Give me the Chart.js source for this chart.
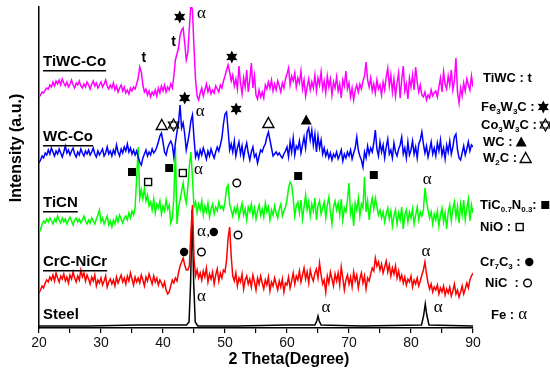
<!DOCTYPE html>
<html>
<head>
<meta charset="utf-8">
<script src="https://cdn.jsdelivr.net/npm/chart.js@4.4.0/dist/chart.umd.min.js"></script>
<style>
  html, body { margin: 0; padding: 0; background: #fff; }
  #wrap { width: 550px; height: 383px; }
</style>
</head>
<body>
<div id="wrap"><canvas id="xrd" width="550" height="383"></canvas></div>
<script>
// 2θ grid shared by the four coated samples: 20° .. 90° every 0.25° (281 points)
const THETA_START = 20;
const THETA_STEP = 0.25;

// intensities are in arbitrary units, each pattern already offset upward
const TIWC_CO = [
  231, 233, 236, 235, 238, 240, 239, 243,
  241, 246, 242, 247, 244, 248, 243, 249,
  245, 242, 246, 241, 244, 248, 243, 240,
  245, 243, 247, 242, 240, 244, 241, 246,
  243, 239, 244, 247, 242, 245, 240, 243,
  246, 241, 244, 248, 242, 239, 243, 240,
  245, 238, 242, 236, 240, 243, 237, 241,
  235, 238, 234, 240, 237, 241, 239, 244,
  250, 261, 256, 243, 236, 239, 233, 237,
  231, 236, 233, 238, 232, 240, 235, 242,
  237, 243, 236, 241, 238, 244, 240, 252,
  268, 274, 280, 292, 298, 300, 285, 268,
  275, 300, 324, 318, 280, 248, 232, 228,
  235, 240, 232, 238, 244, 236, 241, 234,
  238, 235, 242, 239, 236, 243, 240, 247,
  252, 258, 263, 256, 247, 253, 242, 249,
  239, 262, 245, 234, 250, 241, 258, 236,
  248, 265, 240, 252, 233, 229, 238, 231,
  236, 230, 243, 239, 246, 240, 248, 237,
  244, 238, 247, 242, 236, 245, 240, 249,
  254, 260, 243, 252, 247, 255, 241, 250,
  245, 257, 239, 248, 232, 241, 249, 238,
  246, 240, 253, 237, 250, 243, 256, 239,
  247, 235, 252, 241, 249, 233, 246, 240,
  251, 237, 244, 230, 248, 242, 257, 239,
  245, 231, 240, 228, 238, 243, 236, 244,
  239, 247, 252, 266, 248, 241, 250, 237,
  244, 235, 248, 239, 243, 233, 246, 238,
  251, 260, 242, 253, 236, 249, 232, 245,
  255, 230, 248, 262, 237, 244, 229, 250,
  241, 253, 238, 261, 246, 236, 243, 233,
  231, 236, 228, 233, 230, 238, 232, 235,
  237, 231, 241, 250, 236, 256, 244, 239,
  252, 243, 258, 238, 247, 270, 236, 225,
  240, 232, 245, 237, 249, 243, 238, 252,
  241
];

const WC_CO = [
  165, 168, 172, 170, 175, 173, 178, 174,
  180, 176, 172, 177, 174, 179, 175, 171,
  176, 182, 175, 178, 173, 177, 180, 174,
  171, 176, 173, 179, 175, 172, 177, 174,
  178, 173, 176, 180, 174, 171, 177, 173,
  176, 179, 172, 175, 181, 174, 177, 172,
  178, 174, 183, 176, 172, 179, 175, 181,
  177, 184, 176, 180, 174, 178, 173, 177,
  171, 166, 163, 170, 174, 178, 172, 176,
  173, 179, 175, 177, 181, 186, 192, 195,
  186, 176, 173, 180, 184, 187, 183, 171,
  185, 196, 205, 223, 200, 205, 194, 178,
  186, 195, 207, 213, 190, 171, 176, 170,
  178, 173, 180, 175, 169, 177, 172, 179,
  174, 170, 176, 181, 177, 183, 190, 204,
  214, 216, 198, 178, 184, 176, 187, 172,
  180, 186, 174, 182, 170, 179, 185, 175,
  168, 176, 181, 171, 174, 165, 172, 178,
  176, 181, 184, 191, 196, 188, 180, 172,
  174, 176, 173, 175, 172, 170, 174, 177,
  181, 171, 186, 176, 190, 173, 182, 179,
  187, 175, 183, 191, 180, 196, 200, 188,
  198, 183, 194, 176, 192, 180, 188, 174,
  180, 172, 177, 170, 175, 168, 174, 171,
  176, 169, 173, 178, 167, 174, 170, 176,
  172, 178, 169, 175, 180, 191, 178, 172,
  168, 161, 176, 170, 182, 174, 180, 176,
  185, 198, 179, 172, 186, 176, 183, 170,
  181, 189, 174, 178, 170, 185, 176, 172,
  179, 183, 191, 174, 180, 170, 186, 173,
  178, 187, 174, 181, 170, 184, 188, 196,
  184, 175, 182, 171, 178, 186, 174, 180,
  172, 185, 177, 188, 173, 180, 169, 183,
  176, 187, 174, 181, 191, 194, 178, 170,
  168, 175, 182, 173, 179, 186, 177, 183,
  181
];

const TICN = [
  101,  98, 104, 107, 105, 109, 106, 110,
  107, 104, 109, 106, 112, 108, 105, 110,
  106, 109, 104, 108, 111, 107, 103, 108,
  110, 106, 109, 105, 108, 112, 107, 104,
  108, 105, 110, 107, 104, 109, 113, 118,
  106, 110, 104, 108, 112, 103, 107, 101,
  108, 104, 111, 106, 113, 109, 105, 110,
  112, 108, 115, 110, 117, 113, 120, 150,
  181, 130, 138, 129, 140, 127, 133, 122,
  126, 118, 129, 115, 124, 120, 127, 114,
  122, 117, 128, 119, 123, 105, 110, 130,
  181, 104, 120, 128, 137, 145, 132, 125,
  140, 162, 176, 150, 121, 126, 115, 124,
  118, 127, 113, 122, 116, 125, 111, 119,
  124, 114, 121, 117, 126, 120, 122, 118,
  126, 140, 143, 124, 118, 112, 120, 115,
  122, 110, 118, 125, 113, 119, 108, 121,
  116, 124, 112, 120, 109, 117, 123, 113,
  119, 111, 125, 116, 121, 108, 118, 113,
  122, 115, 110, 119, 124, 112, 117, 121,
  128, 140, 146, 143, 130, 112, 122, 126,
  115, 128, 109, 121, 133, 118, 126, 112,
  124, 117, 130, 108, 122, 127, 114, 120,
  126, 110, 123, 131, 116, 104, 121, 127,
  118, 125, 113, 129, 108, 120, 116, 128,
  145, 114, 121, 102, 125, 118, 130, 112,
  124, 120, 151, 116, 127, 108, 122, 130,
  119, 130, 121, 113, 118, 110, 116, 106,
  114, 120, 109, 117, 102, 112, 118, 104,
  115, 108, 121,  99, 113, 118, 106, 116,
  110, 119, 104, 113, 121, 108, 116, 112,
  118, 140, 128, 118, 110, 116, 104, 114,
  108, 117, 102, 113, 120, 106, 115,  99,
  116, 123, 107, 119, 126, 111, 122, 105,
  124, 113, 128, 108, 120, 129, 107, 123,
  115
];

const CRC_NICR = [
  35, 38, 42, 40, 45, 48, 46, 51,
  48, 53, 47, 55, 50, 46, 52, 49,
  54, 47, 51, 45, 53, 49, 56, 50,
  46, 52, 48, 58, 51, 55, 47, 53,
  49, 44, 51, 47, 53, 42, 48, 45,
  50, 43, 47, 52, 41, 46, 49, 44,
  48, 42, 51, 45, 49, 53, 46, 50,
  44, 52, 47, 55, 49, 43, 51, 46,
  50, 45, 53, 48, 42, 51, 47, 54,
  49, 44, 52, 46, 50, 43, 48, 45,
  41, 46, 38, 34, 36, 42, 48, 45,
  50, 47, 55, 62, 66, 70, 63, 58,
  58, 62, 95, 123, 70, 52, 58, 50,
  55, 48, 57, 51, 60, 46, 54, 49,
  56, 44, 53, 59, 47, 55, 50, 58,
  56, 68, 90, 101, 72, 52, 47, 55,
  42, 50, 46, 54, 39, 48, 52, 44,
  49, 41, 53, 46, 38, 50, 44, 52,
  45, 39, 48, 43, 51, 37, 46, 42,
  50, 44, 38, 47, 41, 49, 36, 45,
  43, 51, 40, 47, 55, 44, 52, 48,
  57, 46, 53, 60, 49, 56, 45, 58,
  51, 47, 55, 59, 50, 65, 53, 44,
  48, 36, 52, 45, 56, 49, 42, 54,
  47, 55, 43, 61, 50, 38, 48, 53,
  44, 51, 41, 56, 47, 53, 40, 49,
  55, 45, 52, 39, 50, 47, 54, 60,
  57, 70, 62, 66, 58, 64, 55, 61,
  67, 56, 63, 52, 60, 54, 62, 50,
  57, 48, 53, 45, 51, 43, 49, 46,
  52, 41, 48, 44, 50, 42, 47, 53,
  58, 66, 54, 45, 39, 44, 36, 41,
  38, 43, 34, 40, 36, 42, 33, 39,
  35, 41, 32, 37, 44, 34, 38, 31,
  36, 42, 34, 39, 45, 40, 48, 52,
  55
];

// bare steel: flat baseline with three Fe (α) reflections
const STEEL_THETA = [20, 28, 36, 43.8, 44.2, 44.45, 44.7, 44.95, 45.2, 45.6, 52, 60, 64.5, 64.8, 65.0, 65.2, 65.5, 72, 81.7, 82.05, 82.3, 82.55, 82.9, 90];
const STEEL = [2, 2, 3, 3, 6, 45, 118, 45, 6, 2, 2, 3, 3, 7, 12, 7, 3, 2, 3, 13, 24, 13, 3, 2];

const SAMPLE_NAMES = ['TiWC-Co', 'WC-Co', 'TiCN', 'CrC-NiCr', 'Steel'];
const SAMPLE_COLORS = ['#ff00ff', '#0000ff', '#00ff00', '#ff0000', '#000000'];
const X_TICKS = [20, 25, 30, 35, 40, 45, 50, 55, 60, 65, 70, 75, 80, 85, 90];

// [sample name, label value, underlined]
const SAMPLE_LABELS = [
  ['TiWC-Co', 266, true],
  ['WC-Co', 191, true],
  ['TiCN', 125, true],
  ['CrC-NiCr', 66, true],
  ['Steel', 13, false]
];

// phase marks above the reflections: [mark, 2θ, value]
const PEAK_MARKS = [
  ['t', 36.9, 270], ['t', 41.7, 286], ['star', 42.7, 311], ['alpha', 46.2, 314], ['star', 51.1, 271],
  ['tri', 39.8, 203], ['hex', 41.7, 203], ['star', 43.5, 230], ['alpha', 46.0, 216], ['star', 51.8, 219],
  ['tri', 57.0, 205], ['triFill', 63.1, 208],
  ['sqFill', 35.0, 156], ['sq', 37.6, 146], ['sqFill', 41.0, 160], ['sq', 43.2, 155], ['alpha', 45.7, 158],
  ['ring', 51.9, 145], ['sqFill', 61.8, 152], ['sqFill', 74.0, 153], ['alpha', 82.6, 148],
  ['dot', 43.4, 76], ['ring', 46.2, 76], ['alpha', 46.2, 96], ['comma', 47.3, 96], ['dot', 48.2, 96],
  ['ring', 52.1, 93], ['alpha', 82.4, 76],
  ['alpha', 46.2, 31], ['alpha', 66.3, 20], ['alpha', 84.4, 20]
];

// phase key right of the plot: [text parts ([text, subscript]), mark, value, left offset]
const PHASE_KEY = [
  [[['TiWC : t', 0]], null, 250, 10],
  [[['Fe', 0], ['3', 1], ['W', 0], ['3', 1], ['C : ', 0]], 'star', 221, 8],
  [[['Co', 0], ['3', 1], ['W', 0], ['3', 1], ['C : ', 0]], 'hex', 203, 8],
  [[['WC : ', 0]], 'triFill', 186, 10],
  [[['W', 0], ['2', 1], ['C : ', 0]], 'tri', 170, 10],
  [[['TiC', 0], ['0.7', 1], ['N', 0], ['0.3', 1], [': ', 0]], 'sqFill', 123, 7],
  [[['NiO : ', 0]], 'sq', 101, 7],
  [[['Cr', 0], ['7', 1], ['C', 0], ['3', 1], [' : ', 0]], 'dot', 66, 7],
  [[['NiC  : ', 0]], 'ring', 45, 12],
  [[['Fe : ', 0]], 'alpha', 13, 18]
];

const SANS = '"Liberation Sans", Arial, sans-serif';
const SERIF = '"Liberation Serif", "DejaVu Serif", serif';

function thetaSeries(values) {
  return values.map((v, i) => ({ x: THETA_START + i * THETA_STEP, y: v }));
}

function drawMark(ctx, kind, x, y) {
  ctx.save();
  ctx.fillStyle = '#000';
  ctx.strokeStyle = '#000';
  ctx.lineWidth = 1.4;
  ctx.textAlign = 'center';
  ctx.textBaseline = 'middle';
  if (kind === 'sqFill') {
    ctx.fillRect(x - 4, y - 4, 8, 8);
  } else if (kind === 'sq') {
    ctx.strokeRect(x - 3.5, y - 3.5, 7, 7);
  } else if (kind === 'dot') {
    ctx.beginPath(); ctx.arc(x, y, 4.2, 0, Math.PI * 2); ctx.fill();
  } else if (kind === 'ring') {
    ctx.beginPath(); ctx.arc(x, y, 3.8, 0, Math.PI * 2); ctx.stroke();
  } else if (kind === 'tri' || kind === 'triFill') {
    ctx.beginPath();
    ctx.moveTo(x, y - 5.5); ctx.lineTo(x + 5.5, y + 4.5); ctx.lineTo(x - 5.5, y + 4.5); ctx.closePath();
    if (kind === 'tri') ctx.stroke(); else ctx.fill();
  } else if (kind === 'star') {
    ctx.beginPath();
    for (let k = 0; k < 12; k++) {
      const r = k % 2 === 0 ? 6.5 : 3.4;
      const a = -Math.PI / 2 + k * Math.PI / 6;
      const px = x + r * Math.cos(a), py = y + r * Math.sin(a);
      if (k === 0) ctx.moveTo(px, py); else ctx.lineTo(px, py);
    }
    ctx.closePath(); ctx.fill();
  } else if (kind === 'hex') {
    ctx.lineWidth = 1.2;
    for (const off of [-Math.PI / 2, Math.PI / 2]) {
      ctx.beginPath();
      for (let k = 0; k < 3; k++) {
        const a = off + k * 2 * Math.PI / 3;
        const px = x + 6 * Math.cos(a), py = y + 6 * Math.sin(a);
        if (k === 0) ctx.moveTo(px, py); else ctx.lineTo(px, py);
      }
      ctx.closePath(); ctx.stroke();
    }
  } else if (kind === 't') {
    ctx.font = `bold 14px ${SANS}`;
    ctx.fillText('t', x, y);
  } else if (kind === 'alpha') {
    ctx.font = `17px ${SERIF}`;
    ctx.fillText('α', x, y);
  } else if (kind === 'comma') {
    ctx.font = `14px ${SERIF}`;
    ctx.fillText(',', x, y);
  }
  ctx.restore();
}

const xrdDecor = {
  id: 'xrdDecor',
  afterDatasetsDraw(chart) {
    const { ctx, chartArea, scales: { x, y } } = chart;
    ctx.save();
    ctx.fillStyle = '#000';
    ctx.textBaseline = 'middle';
    ctx.textAlign = 'left';

    ctx.font = `bold 15px ${SANS}`;
    SAMPLE_LABELS.forEach(([name, val, underline]) => {
      const px = x.getPixelForValue(20.65);
      const py = y.getPixelForValue(val);
      ctx.fillText(name, px, py);
      if (underline) ctx.fillRect(px, py + 8, ctx.measureText(name).width, 1.5);
    });

    PEAK_MARKS.forEach(([kind, t, v]) => drawMark(ctx, kind, x.getPixelForValue(t), y.getPixelForValue(v)));

    PHASE_KEY.forEach(([parts, mark, val, dx]) => {
      let cx = chartArea.right + dx;
      const py = y.getPixelForValue(val);
      parts.forEach(([txt, sub]) => {
        ctx.font = sub ? `bold 8px ${SANS}` : `bold 13px ${SANS}`;
        ctx.fillText(txt, cx, sub ? py + 5 : py);
        cx += ctx.measureText(txt).width;
      });
      if (mark) drawMark(ctx, mark, cx + 5, py);
    });

    ctx.font = `bold 16px ${SANS}`;
    ctx.textAlign = 'center';
    ctx.fillText('2 Theta(Degree)', x.getPixelForValue(60.3), chartArea.bottom + 32);

    ctx.translate(17, 148);
    ctx.rotate(-Math.PI / 2);
    ctx.fillText('Intensity (a.u.)', 0, 0);
    ctx.restore();
  }
};

const patterns = [TIWC_CO, WC_CO, TICN, CRC_NICR];
const datasets = patterns.map((vals, i) => ({
  label: SAMPLE_NAMES[i],
  data: thetaSeries(vals),
  borderColor: SAMPLE_COLORS[i],
  borderWidth: 1.5,
  pointRadius: 0,
  tension: 0,
  fill: false
}));
datasets.push({
  label: SAMPLE_NAMES[4],
  data: STEEL_THETA.map((t, i) => ({ x: t, y: STEEL[i] })),
  borderColor: SAMPLE_COLORS[4],
  borderWidth: 1.5,
  pointRadius: 0,
  tension: 0,
  fill: false
});

new Chart(document.getElementById('xrd'), {
  type: 'line',
  data: { datasets },
  options: {
    responsive: false,
    animation: false,
    devicePixelRatio: 1,
    layout: { padding: { left: 0, right: 77, top: 7, bottom: 0 } },
    plugins: { legend: { display: false }, tooltip: { enabled: false } },
    scales: {
      x: {
        type: 'linear',
        min: 20,
        max: 90,
        afterFit: (s) => { s.height = 55; },
        afterBuildTicks: (s) => { s.ticks = X_TICKS.map((v) => ({ value: v })); },
        ticks: {
          autoSkip: false,
          maxRotation: 0,
          padding: 2,
          color: '#111',
          font: { family: SANS, size: 14 },
          callback: (v) => (v % 10 === 0 ? String(v) : '')
        },
        grid: { display: true, drawOnChartArea: false, drawTicks: true, tickLength: 5, color: '#000', lineWidth: 1.2 },
        border: { display: true, color: '#000', width: 1.5 }
      },
      y: {
        min: 0,
        max: 321,
        afterFit: (s) => { s.width = 39; },
        ticks: { display: false },
        grid: { display: true, drawOnChartArea: false, drawTicks: false },
        border: { display: true, color: '#000', width: 1.5 }
      }
    }
  },
  plugins: [xrdDecor]
});
</script>
</body>
</html>
